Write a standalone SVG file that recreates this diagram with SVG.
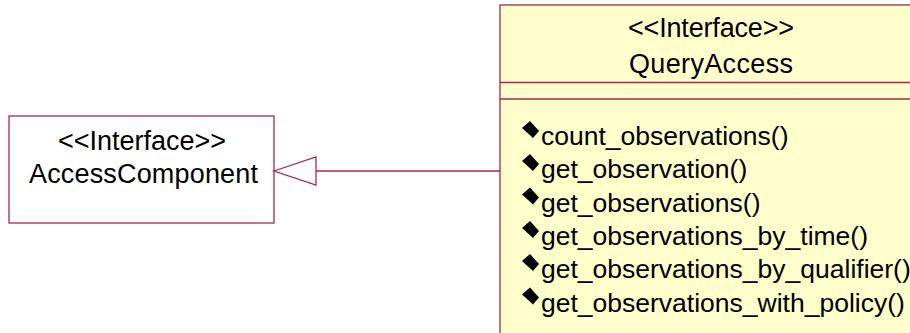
<svg xmlns="http://www.w3.org/2000/svg" width="910" height="333" viewBox="0 0 910 333">
<defs>
<style>
.box{stroke:#a3284f;stroke-width:1.3}
.t{font-family:"Liberation Sans",Arial,sans-serif;font-size:27px;fill:#000}
.op{font-family:"Liberation Sans",Arial,sans-serif;font-size:26.5px;fill:#000}
.dia{fill:#000}
.conn{stroke:#a3284f;stroke-width:1.3;fill:none}
</style>
<polygon id="pub" class="dia" points="-1,-17 7,-24 16,-14 10,-7"/>
</defs>
<g id="AccessComponent">
<rect class="box" x="9" y="116" width="265" height="107" fill="#ffffff"/>
<text class="t" x="58" y="150" textLength="168" lengthAdjust="spacing">&lt;&lt;Interface&gt;&gt;</text>
<text class="t" x="29" y="183" textLength="229" lengthAdjust="spacing">AccessComponent</text>
</g>
<g id="QueryAccess">
<rect class="box" x="500" y="5" width="430" height="350" fill="#ffffcc"/>
<line class="box" x1="500" y1="82.5" x2="930" y2="82.5"/>
<line class="box" x1="500" y1="99" x2="930" y2="99"/>
<text class="t" x="628" y="37" textLength="166" lengthAdjust="spacing">&lt;&lt;Interface&gt;&gt;</text>
<text class="t" x="629" y="73" textLength="164" lengthAdjust="spacing">QueryAccess</text>
<use href="#pub" x="523" y="145"/>
<use href="#pub" x="523" y="178"/>
<use href="#pub" x="523" y="211.5"/>
<use href="#pub" x="523" y="245"/>
<use href="#pub" x="523" y="278"/>
<use href="#pub" x="523" y="311.5"/>
<text class="op" x="541" y="145">count_observations()</text>
<text class="op" x="541" y="178">get_observation()</text>
<text class="op" x="541" y="211.5">get_observations()</text>
<text class="op" x="541" y="245">get_observations_by_time()</text>
<text class="op" x="541" y="278">get_observations_by_qualifier()</text>
<text class="op" x="541" y="311.5">get_observations_with_policy()</text>
</g>
<g id="connectors">
<line class="conn" x1="316" y1="171" x2="500" y2="171"/>
<polygon class="conn" points="274,171 316,157 316,185"/>
</g>
</svg>
